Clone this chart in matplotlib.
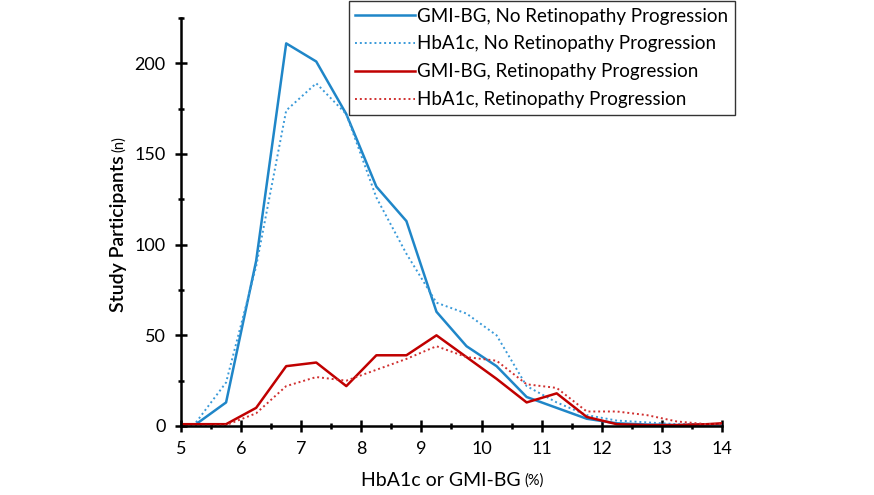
import numpy as np
import matplotlib
matplotlib.use('Agg')
import matplotlib.pyplot as plt
from matplotlib.ticker import MultipleLocator

# bin centres (%), a few points fall outside the axis and get clipped
x = [4.75, 5.25, 5.75, 6.25, 6.75, 7.25, 7.75, 8.25, 8.75, 9.25, 9.75,
     10.25, 10.75, 11.25, 11.75, 12.25, 12.75, 13.25, 13.75, 14.25]

nan = float('nan')
gmi_no_prog = [nan, 1, 13, 91, 211, 201, 172, 132, 113, 63, 44,
               33, 16, 10, 4, 1.5, 0.8, 0.5, 0.8, 1]
hba1c_no_prog = [nan, 2, 24, 88, 174, 189, 172, 126, 95, 68, 62,
                 50, 22, 13, 6, 3, 2, 1, 1, 1]
gmi_prog = [1, 1, 1, 10, 33, 35, 22, 39, 39, 50, 38,
            26, 13, 18, 5, 1, 0.5, 0.5, 1, 2]
hba1c_prog = [0, 0, 0.5, 7, 22, 27, 25, 31, 37, 44, 38,
              36, 23, 21, 8, 8, 6, 2.5, 1, 1]

labels = ["GMI-BG, No Retinopathy Progression",
          "HbA1c, No Retinopathy Progression",
          "GMI-BG, Retinopathy Progression",
          "HbA1c, Retinopathy Progression"]

BLUE = "#1f86c8"
LBLUE = "#3a9ad9"
RED = "#c00000"
LRED = "#d03030"

plt.rcParams['font.family'] = ['Lato', 'DejaVu Sans']

W, H = 874, 495
fig = plt.figure(figsize=(W / 100, H / 100), dpi=100)
ax = fig.add_axes([181 / W, 1 - 426 / H, (722 - 181) / W, (426 - 18) / H])

ax.plot(x, gmi_no_prog, color=BLUE, lw=1.8, label=labels[0])
ax.plot(x, hba1c_no_prog, color=LBLUE, lw=1.4, ls=(0, (1, 1.5)), label=labels[1])
ax.plot(x, gmi_prog, color=RED, lw=1.8, label=labels[2])
ax.plot(x, hba1c_prog, color=LRED, lw=1.4, ls=(0, (1, 1.5)), label=labels[3])

ax.set_xlim(5, 14)
ax.set_ylim(0, 225)
ax.xaxis.set_major_locator(MultipleLocator(1))
ax.xaxis.set_minor_locator(MultipleLocator(0.5))
ax.yaxis.set_major_locator(MultipleLocator(50))
ax.yaxis.set_minor_locator(MultipleLocator(25))

for s in ['top', 'right']:
    ax.spines[s].set_visible(False)
for s in ['left', 'bottom']:
    ax.spines[s].set_linewidth(1.8)
    ax.spines[s].set_color('black')
ax.tick_params(which='major', direction='inout', length=8, width=1.8,
               labelsize=13, pad=7)
ax.tick_params(which='minor', direction='inout', length=5, width=1.8)

leg = ax.legend(loc='upper right', bbox_to_anchor=(735 / W, 1 - 1 / H),
                bbox_transform=fig.transFigure, fontsize=13.5, frameon=True,
                fancybox=False, edgecolor='black', handlelength=3.15,
                handletextpad=0.15, borderpad=0.35, labelspacing=0.58,
                borderaxespad=0)
leg.get_frame().set_linewidth(1.0)

# axis titles with a smaller unit part
fig.canvas.draw()
r = fig.canvas.get_renderer()

t1 = fig.text(361 / W, 1 - 480 / H, "HbA1c or GMI-BG", fontsize=14,
              ha='left', va='center')
bb = t1.get_window_extent(r)
fig.text((bb.x1 + 4) / W, 1 - 481 / H, "(%)", fontsize=10.5,
         ha='left', va='center')

t2 = fig.text(118 / W, 1 - 312 / H, "Study Participants", fontsize=14,
              rotation=90, ha='center', va='bottom', fontweight='semibold')
bb = t2.get_window_extent(r)
fig.text(119 / W, (bb.y1 + 3) / H, "(n)", fontsize=10.5, rotation=90,
         ha='center', va='bottom')

fig.savefig("out.png", dpi=100)
